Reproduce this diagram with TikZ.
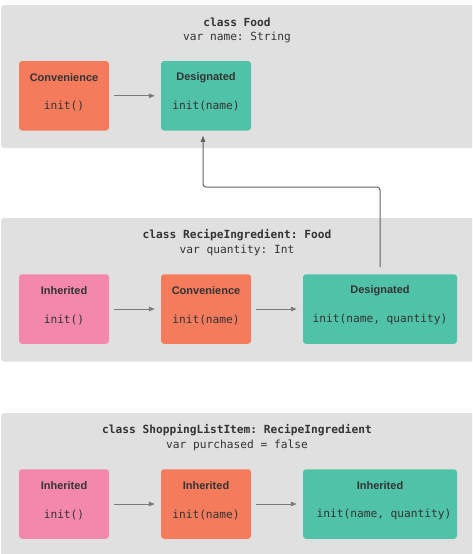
\documentclass[tikz,border=0pt]{standalone}
\usepackage{fontspec}
\setmainfont{Liberation Sans}
\setmonofont{DejaVu Sans Mono}
\usetikzlibrary{arrows.meta,calc}
\usetikzlibrary{positioning}

\definecolor{panelgray}{HTML}{E0E0E0}
\definecolor{convorange}{HTML}{F47B5C}
\definecolor{desggreen}{HTML}{50C2A7}
\definecolor{inhpink}{HTML}{F388AC}
\definecolor{inktext}{HTML}{333333}
\definecolor{arrowgray}{HTML}{7A7A7A}

\begin{document}
\begin{tikzpicture}[x=1pt,y=-1pt,>={Triangle[length=6pt,width=4.5pt]},
  panel/.style={fill=panelgray,rounded corners=3pt},
  box/.style={rounded corners=3pt,minimum width=90pt,minimum height=69.5pt,inner sep=0pt},
  widebox/.style={box,minimum width=154pt},
  head/.style={font=\fontsize{11}{13}\selectfont\bfseries,text=inktext,inner sep=0pt},
  code/.style={font=\fontsize{11.2}{13}\selectfont\ttfamily,text=inktext,inner sep=0pt},
  classline/.style={font=\fontsize{11.2}{13}\selectfont\ttfamily,text=inktext,inner sep=0pt},
  flow/.style={->,draw=arrowgray,line width=1pt,shorten <=5pt,shorten >=6pt}]
\useasboundingbox (0,0) rectangle (472,554);

% panels
\begin{scope}
\clip (0,0) rectangle (472,554);
\fill[panel] (1,5) rectangle (480,148);
\fill[panel] (1,218) rectangle (480,361.5);
\fill[panel] (1,413) rectangle (480,562);
\end{scope}

% class Food
\node[classline] (fname) at (237,22) {\bfseries class Food};
\node[classline] (fvar) at (237,37) {var name: String};
\node[box,fill=convorange] (fconv) at (64,95.8) {};
\node[head] (fconvh) at ([yshift=-16.5pt]fconv.north) {Convenience};
\node[code] (fconvc) at ([yshift=-45.5pt]fconv.north) {init()};
\node[box,fill=desggreen] (fdes) at (206,95.8) {};
\node[head] (fdesh) at ([yshift=-16.5pt]fdes.north) {Designated};
\node[code] (fdesc) at ([yshift=-45.5pt]fdes.north) {init(name)};
\draw[flow] (fconv) -- (fdes);

% class RecipeIngredient
\node[classline] (rname) at (237,235) {\bfseries class RecipeIngredient: Food};
\node[classline] (rvar) at (237,250) {var quantity: Int};
\node[box,fill=inhpink] (rinh) at (64,309) {};
\node[head] (rinhh) at ([yshift=-16.5pt]rinh.north) {Inherited};
\node[code] (rinhc) at ([yshift=-45.5pt]rinh.north) {init()};
\node[box,fill=convorange] (rconv) at (206,309) {};
\node[head] (rconvh) at ([yshift=-16.5pt]rconv.north) {Convenience};
\node[code] (rconvc) at ([yshift=-45.5pt]rconv.north) {init(name)};
\node[widebox,fill=desggreen] (rdes) at (380,309) {};
\node[head] (rdesh) at ([yshift=-16.5pt]rdes.north) {Designated};
\node[code] (rdesc) at ([yshift=-45.5pt]rdes.north) {init(name, quantity)};
\foreach \x/\y in {rinh/rconv,rconv/rdes} \draw[flow] (\x) -- (\y);
\draw[->,draw=arrowgray!80!black,line width=1pt,rounded corners=3pt,shorten <=7pt,shorten >=5pt]
  (rdes.north) -- ++(0,-87) -| ([xshift=-3pt]fdes.south);

% class ShoppingListItem
\node[classline] (sname) at (237,430) {\bfseries class ShoppingListItem: RecipeIngredient};
\node[classline] (svar) at (237,445) {var purchased = false};
\node[box,fill=inhpink] (sinh) at (64,504) {};
\node[head] (sinhh) at ([yshift=-16.5pt]sinh.north) {Inherited};
\node[code] (sinhc) at ([yshift=-45.5pt]sinh.north) {init()};
\node[box,fill=convorange] (sconv) at (206,504) {};
\node[head] (sconvh) at ([yshift=-16.5pt]sconv.north) {Inherited};
\node[code] (sconvc) at ([yshift=-45.5pt]sconv.north) {init(name)};
\node[widebox,fill=desggreen] (sdes) at (380,504) {};
\node[head] (sdesh) at ([yshift=-16.5pt]sdes.north) {Inherited};
\node[code] (sdesc) at ([xshift=4pt,yshift=-45.5pt]sdes.north) {init(name, quantity)};
\foreach \x/\y in {sinh/sconv,sconv/sdes} \draw[flow] (\x) -- (\y);
\end{tikzpicture}
\end{document}
